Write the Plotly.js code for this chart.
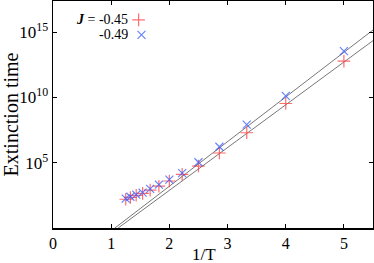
<!DOCTYPE html>
<html>
<head>
<meta charset="utf-8">
<script src="https://cdn.plot.ly/plotly-3.0.1.min.js"></script>
<style>
  html, body { margin: 0; padding: 0; background: #fff; }
  #chart { width: 374px; height: 263px; }
</style>
</head>
<body>
<div id="chart"></div>
<script>
// 1/T values (T = 0.8 ... 0.2)
const invT = [1.25, 1.33, 1.43, 1.54, 1.67, 1.82, 2.0, 2.22, 2.5, 2.86, 3.33, 4.0, 5.0];

// extinction times
const timeJ045 = [1.6e2, 2.2e2, 3.2e2, 4.5e2, 8e2, 1.6e3, 4e3, 1.3e4, 5.6e4, 5.6e5, 2e7, 3.5e9, 6.2e12];
const timeJ049 = [1.8e2, 2.5e2, 3.6e2, 5.2e2, 1e3, 2.1e3, 5.1e3, 1.6e4, 1.1e5, 1.7e6, 8.3e7, 1.35e10, 3.6e13];

// fitted Arrhenius lines (end points)
const fitX045 = [1.12, 5.5];
const fitY045 = [1, 2.3e14];
const fitX049 = [1.064, 5.5];
const fitY049 = [1, 1.5e15];

const yTicks = [1e5, 1e10, 1e15];
const yTickText = ['10<sup>5</sup>', '10<sup>10</sup>', '10<sup>15</sup>'];
const xTicks = [0, 1, 2, 3, 4, 5];

const serif = '"Liberation Serif", "Times New Roman", serif';

const traces = [
    {
        x: fitX045, y: fitY045, type: 'scatter', mode: 'lines',
        line: { color: '#777', width: 1 }, showlegend: false, hoverinfo: 'skip'
    },
    {
        x: fitX049, y: fitY049, type: 'scatter', mode: 'lines',
        line: { color: '#777', width: 1 }, showlegend: false, hoverinfo: 'skip'
    },
    {
        x: invT, y: timeJ045, type: 'scatter', mode: 'markers', name: ' ',
        marker: { symbol: 'cross-thin', size: 9, line: { color: 'rgba(255,60,60,0.75)', width: 1.2 } },
        legend: 'legend'
    },
    {
        x: invT, y: timeJ049, type: 'scatter', mode: 'markers', name: ' ',
        marker: { symbol: 'x-thin', size: 8, line: { color: 'rgba(50,90,255,0.75)', width: 1.2 } },
        legend: 'legend2'
    }
];

const legendBase = {
    xanchor: 'left', yanchor: 'middle',
    bgcolor: 'rgba(0,0,0,0)', borderwidth: 0,
    font: { family: serif, size: 12, color: '#000' }
};

const layout = {
    width: 374,
    height: 263,
    margin: { l: 53, r: 1, t: 1, b: 35 },
    paper_bgcolor: '#fff',
    plot_bgcolor: '#fff',
    showlegend: true,
    legend: Object.assign({ x: 0.205, y: 0.917 }, legendBase),
    legend2: Object.assign({ x: 0.214, y: 0.851 }, legendBase),
    xaxis: {
        range: [0, 5.5],
        tickvals: xTicks,
        ticks: 'inside', ticklen: 4, tickwidth: 1, tickcolor: '#000',
        showline: true, linecolor: '#000', linewidth: 1.5, mirror: 'ticks',
        showgrid: false, zeroline: false,
        tickfont: { family: serif, size: 16, color: '#000' }
    },
    yaxis: {
        type: 'log',
        range: [0, 17.4],
        tickvals: yTicks,
        ticktext: yTickText,
        ticks: 'inside', ticklen: 4, tickwidth: 1, tickcolor: '#000',
        showline: true, linecolor: '#000', linewidth: 1.5, mirror: 'ticks',
        showgrid: false, zeroline: false,
        tickfont: { family: serif, size: 17, color: '#000' },
        title: { text: 'Extinction time', font: { family: serif, size: 20, color: '#000' }, standoff: 4 }
    },
    annotations: [
        {
            xref: 'paper', yref: 'paper', x: 0.472, y: -0.118,
            xanchor: 'center', yanchor: 'middle', showarrow: false,
            text: '1/T',
            font: { family: serif, size: 17, color: '#000' }
        },
        {
            xref: 'paper', yref: 'paper', x: 0.242, y: 0.917,
            xanchor: 'right', yanchor: 'middle', showarrow: false,
            text: '<b><i>J</i></b> = -0.45',
            font: { family: serif, size: 14, color: '#000' }
        },
        {
            xref: 'paper', yref: 'paper', x: 0.242, y: 0.851,
            xanchor: 'right', yanchor: 'middle', showarrow: false,
            text: '-0.49',
            font: { family: serif, size: 14, color: '#000' }
        }
    ]
};

Plotly.newPlot('chart', traces, layout, { displayModeBar: false, staticPlot: true });
</script>
</body>
</html>
